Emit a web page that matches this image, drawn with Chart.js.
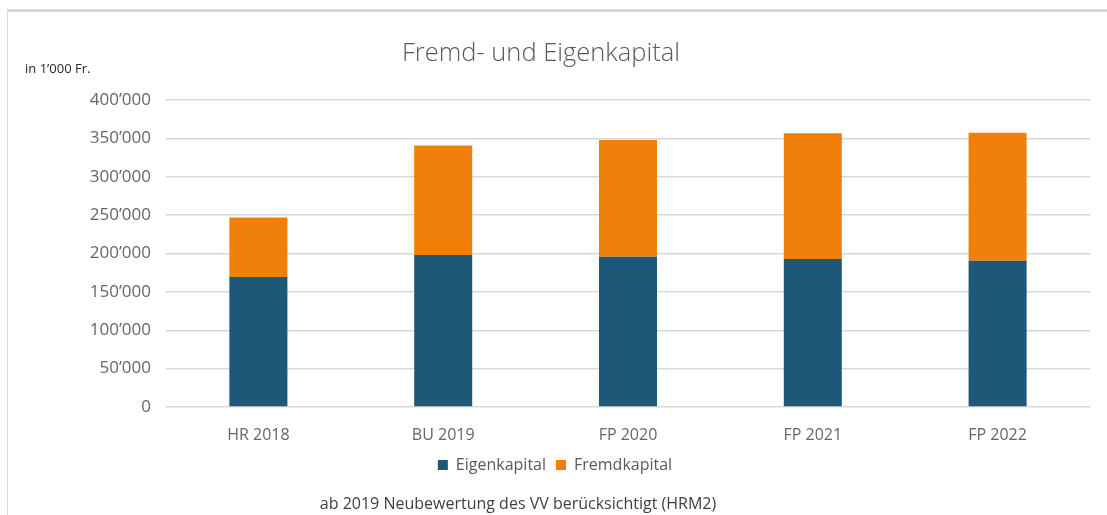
<!DOCTYPE html>
<html>
<head>
<meta charset="utf-8">
<script src="https://cdn.jsdelivr.net/npm/chart.js@4"></script>
<style>
  html, body { margin: 0; padding: 0; background: #fff; }
  body { width: 1107px; height: 515px; position: relative; overflow: hidden; font-family: "Open Sans", sans-serif; }
  #frame { position: absolute; left: 7px; top: 9px; right: 0; bottom: 0; border-left: 1px solid #d9d9d9; border-top: 3px solid #d9d9d9; }
  #wrap { position: absolute; left: 0; top: 0; width: 1107px; height: 515px; }
  #title { position: absolute; left: 0; width: 1082px; top: 34px; text-align: center; font-size: 25.5px; font-weight: 300; color: #595959; }
  #unit { position: absolute; left: 25px; top: 59px; font-size: 13px; color: #262626; }
  #note { position: absolute; left: 0; width: 1036px; top: 492px; text-align: center; font-size: 16px; color: #404040; }
</style>
</head>
<body>
<div id="frame"></div>
<div id="wrap"><canvas id="chart"></canvas></div>
<div id="title">Fremd- und Eigenkapital</div>
<div id="unit">in 1’000 Fr.</div>
<div id="note">ab 2019 Neubewertung des VV berücksichtigt (HRM2)</div>
<script>
const categories = ['HR 2018', 'BU 2019', 'FP 2020', 'FP 2021', 'FP 2022'];
const eigenkapital = [169400, 198000, 195900, 192800, 190600];
const fremdkapital = [77500, 142700, 152000, 163800, 166800];

const fmt = v => String(v).replace(/\B(?=(\d{3})+(?!\d))/g, '’');

new Chart(document.getElementById('chart'), {
  type: 'bar',
  data: {
    labels: categories,
    datasets: [
      { label: 'Eigenkapital', data: eigenkapital, backgroundColor: '#1d5879' },
      { label: 'Fremdkapital', data: fremdkapital, backgroundColor: '#f0800a' }
    ]
  },
  options: {
    responsive: true,
    maintainAspectRatio: false,
    animation: false,
    datasets: { bar: { categoryPercentage: 1, barPercentage: 0.314 } },
    layout: { padding: { left: 20, right: 17, top: 100, bottom: 32 } },
    plugins: {
      title: { display: false },
      legend: {
        position: 'bottom',
        labels: {
          color: '#595959',
          font: { family: 'Open Sans', size: 16 },
          boxWidth: 10, boxHeight: 10, padding: 10
        }
      },
      tooltip: { enabled: false }
    },
    scales: {
      x: {
        stacked: true,
        grid: { display: false },
        border: { display: false },
        ticks: { color: '#666666', font: { family: 'Open Sans', size: 16 }, padding: 11 },
        afterFit: s => { s.height = 40; }
      },
      y: {
        stacked: true,
        min: 0, max: 400000,
        grid: { color: '#d9d9d9', lineWidth: 1.5, drawTicks: false },
        border: { display: false },
        ticks: {
          stepSize: 50000,
          color: '#666666',
          font: { family: 'Open Sans', size: 17 },
          padding: 15,
          callback: v => fmt(v)
        },
        afterFit: s => { s.width = 146; }
      }
    }
  }
});
</script>
</body>
</html>
